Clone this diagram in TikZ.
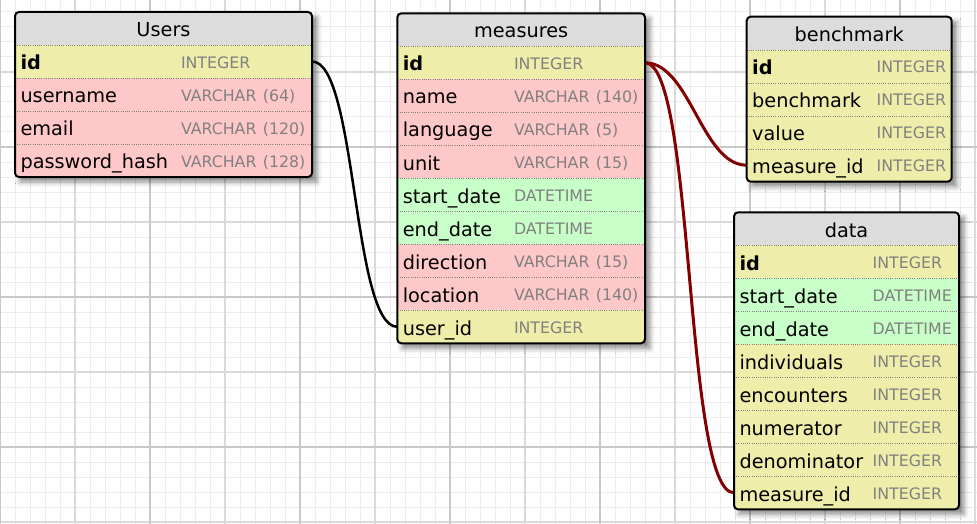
\documentclass[tikz,border=0pt]{standalone}
\usepackage{fontspec}
\setmainfont{DejaVu Sans}
\usetikzlibrary{positioning,backgrounds,shadows.blur}

\definecolor{headgray}{RGB}{220,220,220}
\definecolor{keyyellow}{RGB}{238,238,170}
\definecolor{txtpink}{RGB}{255,200,200}
\definecolor{dategreen}{RGB}{200,255,200}
\definecolor{typegray}{RGB}{128,128,128}
\definecolor{linkred}{RGB}{130,0,0}
\definecolor{gridfine}{RGB}{236,236,236}
\definecolor{gridmid}{RGB}{218,218,218}
\definecolor{gridbold}{RGB}{200,200,200}

\newcommand{\namefont}{\fontsize{19.3}{23}\selectfont}
\newcommand{\typefont}{\fontsize{15.8}{19}\selectfont\color{typegray}}
\newcommand{\fld}[2]{\makebox[\namecol][l]{#1}\raisebox{1.6pt}{\typefont #2}}
\tikzset{namecol/.code={\def\namecol{#1}}}

\begin{document}
\begin{tikzpicture}
[x=1pt,y=-1pt,
	cell/.style={rectangle,inner xsep=5.5pt,inner ysep=0pt,outer sep=0pt,minimum height=33pt,
		text height=16.4pt,text depth=0pt,align=left,font=\namefont},
	sep/.style={gray,line width=0.8pt,dash pattern=on 1pt off 1.2pt},
	row/.style={cell,path picture={\draw[sep] ([yshift=-0.5pt]path picture bounding box.north west) -- ([yshift=-0.5pt]path picture bounding box.north east);}},
	head/.style={cell,fill=headgray,align=center},
	keyrow/.style={row,fill=keyyellow},
	txtrow/.style={row,fill=txtpink},
	daterow/.style={row,fill=dategreen},
	usr/.style={text width=286pt,namecol=160.5pt},
	msr/.style={text width=236.7pt,namecol=111.2pt},
	bmk/.style={text width=194pt,namecol=124.5pt},
	dat/.style={text width=214pt,namecol=133.2pt},
	frame/.style={draw=black,line width=2pt,rounded corners=4pt},
	shade/.style={fill=white,blur shadow={shadow xshift=5pt,shadow yshift=-5pt,shadow blur radius=5pt,shadow opacity=45}},
	link/.style={line width=2.5pt},
	fk/.style={link,linkred,line width=3pt}]
\useasboundingbox (0,0) rectangle (977,524);

% Users
\node[usr,head,anchor=north west] (users) at (15,12) {Users};
\node[usr,keyrow,below=0pt of users] (u-id) {\fld{\textbf{id}}{INTEGER}};
\node[usr,txtrow,below=0pt of u-id] (u-username) {\fld{username}{VARCHAR (64)}};
\node[usr,txtrow,below=0pt of u-username] (u-email) {\fld{email}{VARCHAR (120)}};
\node[usr,txtrow,below=0pt of u-email] (u-pwhash) {\fld{password\_hash}{VARCHAR (128)}};

% measures
\node[msr,head,anchor=north west] (measures) at (397.3,13.3) {measures};
\node[msr,keyrow,below=0pt of measures] (m-id) {\fld{\textbf{id}}{INTEGER}};
\node[msr,txtrow,below=0pt of m-id] (m-name) {\fld{name}{VARCHAR (140)}};
\node[msr,txtrow,below=0pt of m-name] (m-language) {\fld{language}{VARCHAR (5)}};
\node[msr,txtrow,below=0pt of m-language] (m-unit) {\fld{unit}{VARCHAR (15)}};
\node[msr,daterow,below=0pt of m-unit] (m-start) {\fld{start\_date}{DATETIME}};
\node[msr,daterow,below=0pt of m-start] (m-end) {\fld{end\_date}{DATETIME}};
\node[msr,txtrow,below=0pt of m-end] (m-direction) {\fld{direction}{VARCHAR (15)}};
\node[msr,txtrow,below=0pt of m-direction] (m-location) {\fld{location}{VARCHAR (140)}};
\node[msr,keyrow,below=0pt of m-location] (m-userid) {\fld{user\_id}{INTEGER}};

% benchmark
\node[bmk,head,anchor=north west] (benchmark) at (746.7,16.7) {benchmark};
\node[bmk,keyrow,below=0pt of benchmark] (b-id) {\fld{\textbf{id}}{INTEGER}};
\node[bmk,keyrow,below=0pt of b-id] (b-benchmark) {\fld{benchmark}{INTEGER}};
\node[bmk,keyrow,below=0pt of b-benchmark] (b-value) {\fld{value}{INTEGER}};
\node[bmk,keyrow,below=0pt of b-value] (b-measureid) {\fld{measure\_id}{INTEGER}};

% data
\node[dat,head,anchor=north west] (data) at (734,212.3) {data};
\node[dat,keyrow,below=0pt of data] (d-id) {\fld{\textbf{id}}{INTEGER}};
\node[dat,daterow,below=0pt of d-id] (d-start) {\fld{start\_date}{DATETIME}};
\node[dat,daterow,below=0pt of d-start] (d-end) {\fld{end\_date}{DATETIME}};
\node[dat,keyrow,below=0pt of d-end] (d-individuals) {\fld{individuals}{INTEGER}};
\node[dat,keyrow,below=0pt of d-individuals] (d-encounters) {\fld{encounters}{INTEGER}};
\node[dat,keyrow,below=0pt of d-encounters] (d-numerator) {\fld{numerator}{INTEGER}};
\node[dat,keyrow,below=0pt of d-numerator] (d-denominator) {\fld{denominator}{INTEGER}};
\node[dat,keyrow,below=0pt of d-denominator] (d-measureid) {\fld{measure\_id}{INTEGER}};

% grid paper and shadows behind the tables
\begin{scope}[on background layer]
\foreach \x in {0,15,...,975} \draw[gridfine,line width=1pt] (\x,0) -- (\x,524);
\foreach \y in {12,27,...,522} \draw[gridfine,line width=1pt] (0,\y) -- (977,\y);
\foreach \x in {0,75,...,975} \draw[gridmid,line width=1.2pt] (\x,0) -- (\x,524);
\foreach \y in {72,147,...,522} \draw[gridmid,line width=1.2pt] (0,\y) -- (977,\y);
\foreach \x in {0,150,...,900} \draw[gridbold,line width=1.2pt] (\x,0) -- (\x,524);
\foreach \y in {147,297,447} \draw[gridbold,line width=1.2pt] (0,\y) -- (977,\y);
\path[shade] (users.north west) rectangle (u-pwhash.south east);
\path[shade] (measures.north west) rectangle (m-userid.south east);
\path[shade] (benchmark.north west) rectangle (b-measureid.south east);
\path[shade] (data.north west) rectangle (d-measureid.south east);
\end{scope}

% relations
\draw[link] (u-id.east) .. controls +(45,0) and +(-45,0) .. (m-userid.west);
\draw[fk] (m-id.east) .. controls +(45,0) and +(-45,0) .. (b-measureid.west);
\draw[fk] (m-id.east) .. controls +(50,0) and +(-50,0) .. (d-measureid.west);

\draw[frame] (users.north west) rectangle (u-pwhash.south east);
\draw[frame] (measures.north west) rectangle (m-userid.south east);
\draw[frame] (benchmark.north west) rectangle (b-measureid.south east);
\draw[frame] (data.north west) rectangle (d-measureid.south east);
\end{tikzpicture}
\end{document}
